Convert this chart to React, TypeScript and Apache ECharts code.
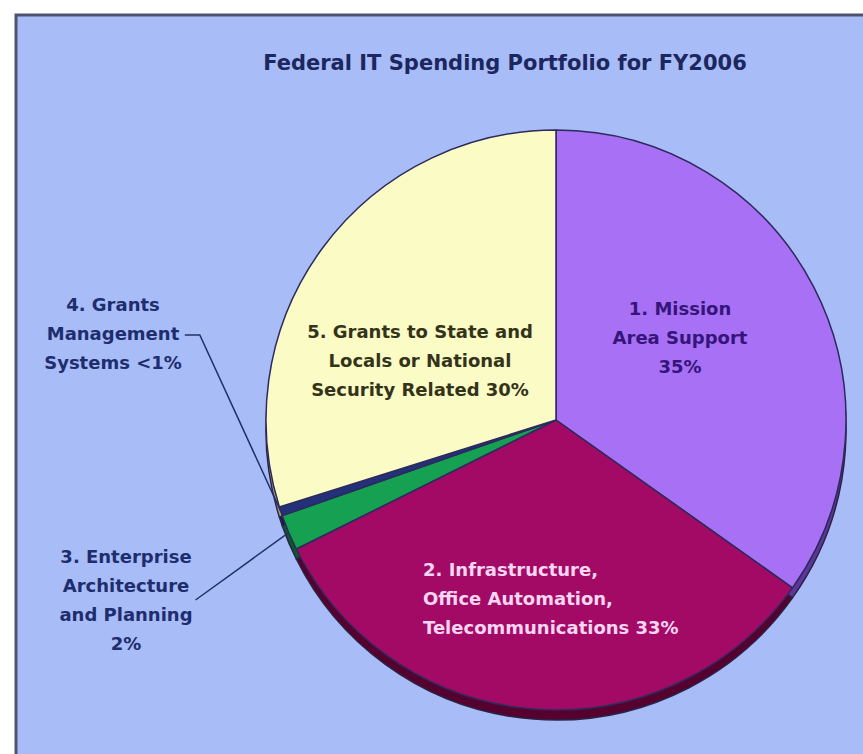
import React, { useEffect, useRef } from "react";
import * as echarts from "echarts";

const titleText = "Federal IT Spending Portfolio for FY2006";
const categories = [
  "1. Mission Area Support",
  "2. Infrastructure, Office Automation, Telecommunications",
  "3. Enterprise Architecture and Planning",
  "4. Grants Management Systems",
  "5. Grants to State and Locals or National Security Related",
];
const values = [35, 33, 2, 0.5, 30];
const labelTexts = [
  ["1. Mission", "Area Support", "35%"],
  ["2. Infrastructure,", "Office Automation,", "Telecommunications 33%"],
  ["3. Enterprise", "Architecture", "and Planning", "2%"],
  ["4. Grants", "Management", "Systems <1%"],
  ["5. Grants to State and", "Locals or National", "Security Related 30%"],
];

const sliceColors = ["#a870f5", "#a30a66", "#16a052", "#23307a", "#fbfbc6"];
const rimColors = ["#5e3598", "#55002f", "#0b5a2c", "#141c4a", "#a8a878"];
const textColors = ["#35157a", "#f8d6f2", "#1e2d6e", "#1e2d6e", "#33331a"];
const outside = [false, false, true, true, false];
// label anchor positions (x, y, align)
const labelPos: [number, number, string][] = [
  [680, 337, "center"],
  [423, 598, "left"],
  [126, 600, "center"],
  [113, 333, "center"],
  [420, 360, "center"],
];

export default function App() {
  const ref = useRef<HTMLDivElement>(null);
  useEffect(() => {
    if (!ref.current) return;
    const chart = echarts.init(ref.current, undefined, { renderer: "svg" });
    const font = "DejaVu Sans";
    const mainData = categories.map((name, i) => ({
      name,
      value: values[i],
      itemStyle: { color: sliceColors[i] },
      label: {
        position: outside[i] ? "outside" : "inside",
        color: textColors[i],
        align: labelPos[i][2],
      },
      labelLine: { show: outside[i] },
    }));
    const rimData = categories.map((name, i) => ({
      name,
      value: values[i],
      itemStyle: { color: rimColors[i] },
    }));
    chart.setOption({
      animation: false,
      backgroundColor: "#ffffff",
      graphic: [
        {
          type: "rect",
          z: -10,
          silent: true,
          shape: { x: 16, y: 15, width: 880, height: 780 },
          style: { fill: "#a8bcf7", stroke: "#4c5470", lineWidth: 3 },
        },
      ],
      title: {
        text: titleText,
        left: 500,
        top: 47,
        textAlign: "center",
        textStyle: { fontFamily: font, fontWeight: "bold", fontSize: 21, color: "#1b275e" },
      },
      series: [
        {
          type: "pie",
          silent: true,
          center: [556, 430],
          radius: 290,
          startAngle: 90,
          clockwise: true,
          label: { show: false },
          labelLine: { show: false },
          itemStyle: { borderColor: "#2a2346", borderWidth: 1.5 },
          data: rimData,
          z: 1,
        },
        {
          type: "pie",
          center: [556, 420],
          radius: 290,
          startAngle: 90,
          clockwise: true,
          avoidLabelOverlap: false,
          itemStyle: { borderColor: "#2d2a5c", borderWidth: 1.5 },
          label: {
            show: true,
            fontFamily: font,
            fontWeight: "bold",
            fontSize: 18,
            lineHeight: 29,
            formatter: (p: any) => labelTexts[p.dataIndex].join("\n"),
          },
          labelLine: {
            lineStyle: { color: "#22306a", width: 1.5 },
          },
          labelLayout: (params: any) => {
            const i = params.dataIndex;
            const [x, y, align] = labelPos[i];
            const res: any = { x, y, align, verticalAlign: "middle" };
            if (outside[i] && params.labelLinePoints) {
              const anchor = params.labelLinePoints[0];
              const w = params.labelRect.width;
              const right = x + w / 2;
              if (i === 3) {
                res.labelLinePoints = [
                  [anchor[0], anchor[1]],
                  [right + 18, y + 2],
                  [right + 3, y + 2],
                ];
              } else {
                res.labelLinePoints = [
                  [anchor[0], anchor[1]],
                  [(anchor[0] + right + 3) / 2, (anchor[1] + y) / 2],
                  [right + 3, y],
                ];
              }
            }
            return res;
          },
          data: mainData,
          z: 3,
        },
      ],
    });
    return () => chart.dispose();
  }, []);
  return (
    <div
      ref={ref}
      style={{ position: "fixed", left: 0, top: 0, width: 863, height: 754 }}
    />
  );
}
